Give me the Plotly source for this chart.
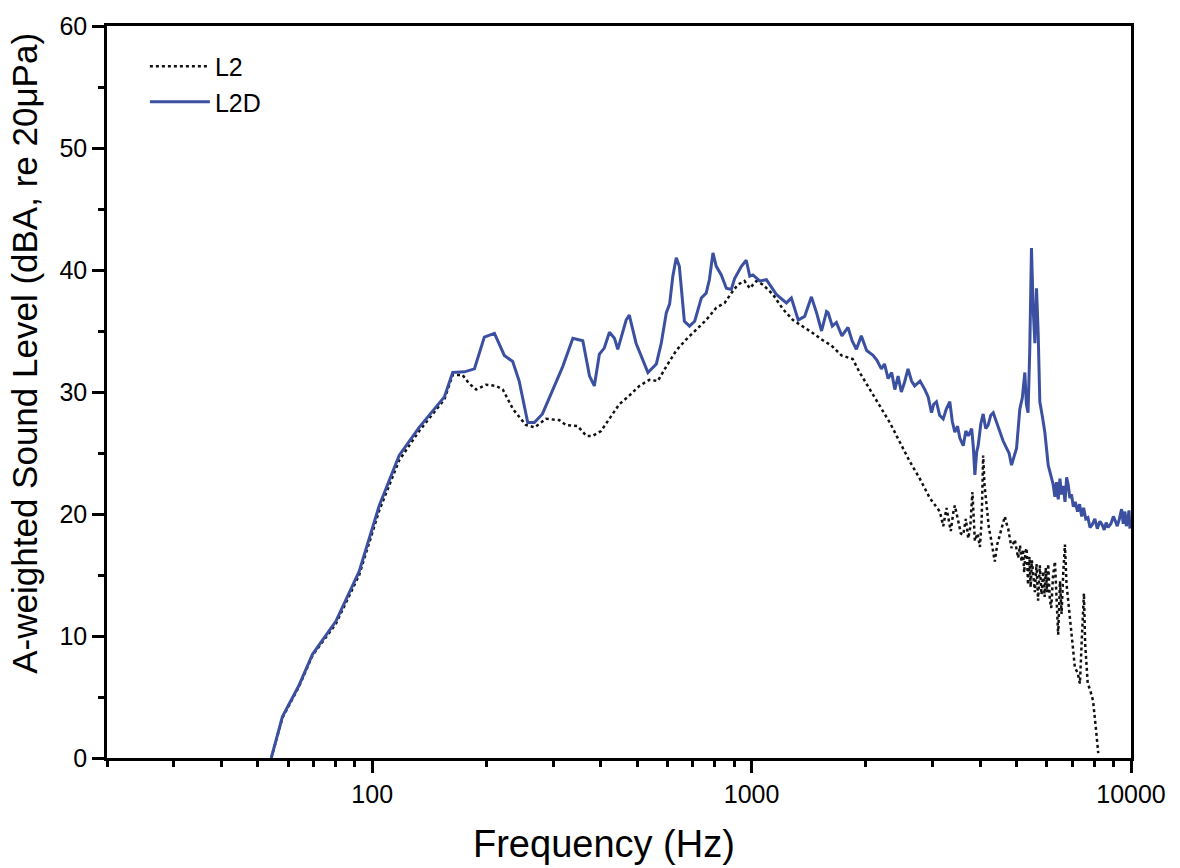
import plotly.graph_objects as go

# ---- data ----
l2d_freq = [54.2, 58, 64, 69.6, 80.2, 92.4, 104.4, 117.8, 133, 155, 163, 175, 186, 197.5, 210, 223, 234.6, 244, 257,
            267.6, 281, 299, 318, 338, 359, 374, 385, 397, 409, 422, 435, 444, 467, 476, 496, 533, 561, 578, 596,
            608, 620, 633, 645, 665, 686, 708, 737, 759, 774, 791, 807, 832, 858, 884, 902, 940, 968, 989, 1008,
            1050, 1094, 1162, 1235, 1273, 1327, 1380, 1438, 1483, 1529, 1576, 1591, 1632, 1673, 1730, 1795, 1840,
            1889, 1946, 2010, 2090, 2140, 2198, 2240, 2290, 2340, 2385, 2433, 2481, 2530, 2584, 2640, 2690, 2780,
            2862, 2920, 2980, 3020, 3070, 3130, 3199, 3260, 3330, 3380, 3433, 3490, 3540, 3613, 3670, 3725, 3803,
            3840, 3877, 3920, 3955, 4020, 4077, 4140, 4204, 4270, 4334, 4420, 4512, 4600, 4699, 4770, 4843, 4920,
            4993, 5093, 5170, 5250, 5300, 5354, 5410, 5466, 5520, 5580, 5636, 5692, 5750, 5840, 5928, 6050, 6140,
            6237, 6300, 6360, 6430, 6497, 6560, 6630, 6700, 6767, 6830, 6900, 6970, 7047, 7130, 7230, 7320, 7413,
            7500, 7600, 7700, 7796, 7900, 8030, 8150, 8281, 8400, 8500, 8600, 8700, 8850, 8987, 9100, 9200, 9320,
            9445, 9540, 9640, 9720, 9800, 9880, 9935]
l2d_level = [0.0, 3.4, 5.9, 8.5, 11.2, 15.3, 20.7, 24.8, 27.1, 29.6, 31.6, 31.65, 31.9, 34.5, 34.8, 33.0, 32.5, 30.9,
             27.5, 27.5, 28.2, 30.2, 32.1, 34.4, 34.2, 31.3, 30.5, 33.1, 33.6, 34.9, 34.4, 33.5, 35.9, 36.3, 34.0,
             31.6, 32.3, 34.0, 36.5, 37.2, 39.5, 41.0, 40.3, 35.8, 35.4, 35.8, 37.7, 38.1, 39.2, 41.4, 40.3, 39.6,
             38.5, 38.4, 39.3, 40.3, 40.8, 39.5, 39.6, 39.1, 39.2, 38.0, 37.3, 37.7, 35.9, 36.2, 37.8, 36.5, 35.0,
             36.6, 36.5, 35.4, 35.7, 34.6, 35.3, 34.2, 33.5, 34.6, 33.4, 33.0, 32.6, 31.9, 32.3, 31.1, 31.6, 30.2,
             31.3, 30.0, 30.8, 31.9, 30.9, 30.5, 30.9, 30.2, 29.6, 28.3, 29.0, 29.2, 28.1, 27.8, 28.6, 29.2, 27.6,
             26.7, 27.2, 26.2, 25.6, 26.8, 26.4, 27.0, 25.5, 23.2, 25.1, 25.6, 27.4, 28.2, 27.0, 27.3, 28.1, 28.3,
             27.5, 26.7, 26.0, 25.4, 25.0, 24.0, 24.8, 25.4, 28.6, 29.5, 31.6, 29.0, 28.3, 33.5, 41.8, 37.0, 34.0,
             38.5, 34.9, 29.2, 28.0, 26.7, 24.0, 23.2, 22.4, 21.4, 22.6, 21.2, 22.9, 21.6, 22.3, 21.0, 23.0, 22.4,
             21.3, 21.6, 20.6, 21.0, 20.2, 20.8, 19.8, 20.5, 19.6, 19.7, 18.9, 19.1, 19.6, 18.8, 19.4, 19.1, 18.7,
             19.3, 18.9, 19.2, 19.8, 19.4, 19.0, 19.6, 20.4, 19.2, 20.2, 19.0, 19.4, 20.3, 18.8, 19.9, 18.7]

l2_freq = [54.2, 58, 64, 69.6, 80.2, 92.4, 104.4, 117.8, 133, 155, 163, 173, 180, 188, 199.5, 212, 221, 235, 254,
           268, 287, 311, 324, 348, 367, 381, 401, 422, 448, 476, 506, 538, 566, 596, 633, 672, 714, 759, 807, 849,
           884, 920, 958, 989, 1029, 1071, 1138, 1209, 1285, 1365, 1439, 1530, 1624, 1726, 1847, 1927, 2048, 2177,
           2313, 2458, 2612, 2775, 2950, 3135, 3200, 3264, 3297, 3350, 3400, 3433, 3506, 3560, 3613, 3670, 3725,
           3770, 3820, 3850, 3877, 3940, 3997, 4040, 4077, 4110, 4154, 4220, 4285, 4330, 4375, 4440, 4512, 4580,
           4651, 4700, 4746, 4843, 4940, 5041, 5100, 5147, 5190, 5230, 5270, 5306, 5354, 5400, 5440, 5480, 5527,
           5580, 5636, 5690, 5750, 5810, 5870, 5920, 5960, 6010, 6050, 6110, 6163, 6230, 6303, 6370, 6428, 6500,
           6561, 6630, 6697, 6760, 6836, 6900, 6979, 7050, 7115, 7230, 7335, 7420, 7516, 7570, 7632, 7691, 7800,
           7943, 8070, 8198]
l2_level = [0.0, 3.3, 5.8, 8.4, 11.0, 15.0, 20.3, 24.4, 26.8, 29.4, 31.4, 31.4, 30.7, 30.2, 30.6, 30.5, 30.2, 28.6,
            27.3, 27.1, 27.8, 27.7, 27.3, 27.2, 26.4, 26.4, 26.8, 27.8, 29.0, 29.7, 30.5, 31.0, 30.9, 32.1, 33.4,
            34.3, 35.1, 35.9, 36.9, 37.3, 38.1, 38.8, 39.1, 38.5, 39.1, 38.8, 38.0, 36.8, 35.9, 35.4, 34.9, 34.3,
            33.8, 33.0, 32.7, 31.6, 30.2, 28.9, 27.5, 25.9, 24.3, 22.9, 21.3, 20.2, 19.0, 20.5, 19.7, 18.6, 20.1,
            20.7, 19.4, 18.4, 18.3, 19.6, 18.0, 18.9, 21.8, 19.0, 17.8, 18.4, 17.3, 19.5, 24.8, 22.4, 21.0, 18.9,
            17.8, 16.9, 16.1, 17.5, 18.3, 19.1, 19.8, 19.2, 18.8, 17.2, 17.9, 16.4, 17.4, 16.1, 17.1, 15.2, 16.9,
            17.2, 14.2, 16.5, 14.0, 16.2, 14.8, 13.6, 15.9, 12.9, 15.8, 13.4, 15.3, 13.2, 15.6, 13.6, 15.9, 13.0,
            12.3, 14.9, 16.1, 12.7, 10.1, 14.5, 11.8, 15.2, 17.5, 14.3, 12.9, 11.2, 10.1, 8.6, 7.4, 7.0, 6.1, 9.8,
            13.5, 9.4, 7.4, 6.1, 5.6, 4.7, 2.6, 0.4]

major_x = [100, 1000, 10000]
minor_x = [20, 30, 40, 50, 60, 70, 80, 90, 200, 300, 400, 500, 600, 700, 800, 900,
           2000, 3000, 4000, 5000, 6000, 7000, 8000, 9000]
y_ticks = [0, 10, 20, 30, 40, 50, 60]

FONT = "Liberation Sans, Arial, sans-serif"

fig = go.Figure()
fig.add_trace(go.Scatter(x=l2_freq, y=l2_level, mode="lines", name="L2",
                         line=dict(color="#111111", width=2.5, dash="dot")))
fig.add_trace(go.Scatter(x=l2d_freq, y=l2d_level, mode="lines", name="L2D",
                         line=dict(color="#3B50A0", width=3)))

fig.update_layout(
    width=1180, height=868,
    margin=dict(l=107, r=49, t=21, b=110),
    paper_bgcolor="white", plot_bgcolor="white",
    font=dict(family=FONT, size=25, color="black"),
    showlegend=True,
    legend=dict(x=0.037, y=0.976, xanchor="left", yanchor="top",
                bgcolor="rgba(0,0,0,0)", borderwidth=0, itemwidth=60,
                font=dict(size=25), tracegroupgap=0),
    xaxis=dict(type="log", range=[1.30103, 4],
               tickvals=major_x, ticktext=[str(v) for v in major_x],
               ticks="outside", ticklen=12, tickwidth=2.5, tickcolor="black",
               minor=dict(tickvals=minor_x, ticks="outside", ticklen=6, tickwidth=2.5, tickcolor="black"),
               showline=True, linewidth=2.5, linecolor="black", mirror=True,
               showgrid=False, zeroline=False,
               tickfont=dict(size=25)),
    yaxis=dict(range=[0, 60], tickvals=y_ticks,
               ticks="outside", ticklen=12, tickwidth=2.5, tickcolor="black",
               minor=dict(dtick=5, ticks="outside", ticklen=6, tickwidth=2.5, tickcolor="black"),
               showline=True, linewidth=2.5, linecolor="black", mirror=True,
               showgrid=False, zeroline=False,
               tickfont=dict(size=25)),
    annotations=[
        dict(text="Frequency (Hz)", xref="paper", yref="paper",
             x=(604 - 107) / 1024, y=-(845 - 758) / 737, xanchor="center", yanchor="middle",
             showarrow=False, font=dict(size=38)),
        dict(text="A-weighted Sound Level (dBA, re 20μPa)", xref="paper", yref="paper",
             x=-(107 - 25) / 1024, y=(758 - 351) / 737, xanchor="center", yanchor="middle",
             textangle=-90, showarrow=False, font=dict(size=35)),
    ],
)

fig.write_html("out.html")
